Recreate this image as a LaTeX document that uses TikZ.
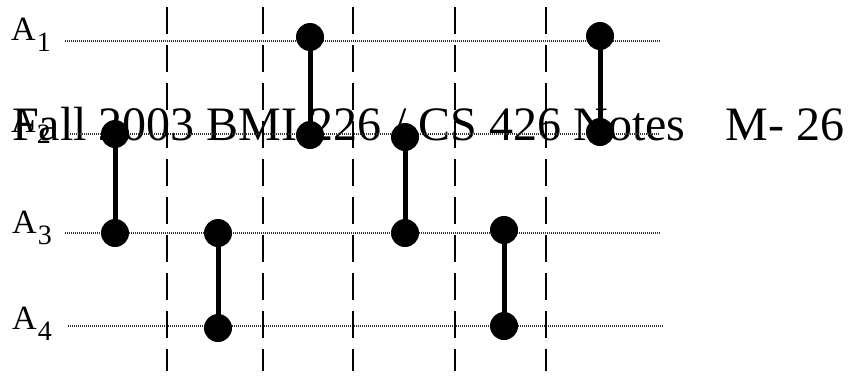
\documentclass[tikz,border=0pt]{standalone}
\usepackage{fontspec}
\setmainfont{Liberation Serif}
\begin{document}
\begin{tikzpicture}[x=1pt,y=-1pt,
  wire/.style={draw=black!80, line width=2.2pt, dash pattern=on 1pt off 1pt},
  slice/.style={draw=black, line width=2pt, dash pattern=on 27pt off 11pt},
  gate/.style={draw=black, line width=5pt},
  pin/.style={circle, fill=black, inner sep=0pt, minimum size=28pt},
  lab/.style={anchor=base west, inner sep=0pt},
  title/.style={anchor=base west, inner sep=0pt, font=\fontsize{48}{50}\selectfont}]
\useasboundingbox (0,0) rectangle (852,376);

% running header sits underneath the drawing
\node[title] (title) at (12,140) {Fall 2003 BMI 226 / CS 426 Notes\hspace{40pt}M- 26};

% wire labels
\newcommand\wirelabel[1]{{\fontsize{34}{34}\selectfont A}\kern1pt\raisebox{-11pt}{\fontsize{28}{28}\selectfont #1}}
\node[lab] (l1) at (11,40) {\wirelabel{1}};
\node[lab] (l2) at (11,132) {\wirelabel{2}};
\node[lab] (l3) at (12,233) {\wirelabel{3}};
\node[lab] (l4) at (12,329) {\wirelabel{4}};

% wire end points
\coordinate (w1s) at (65,41);  \coordinate (w1e) at (660,41);
\coordinate (w2s) at (70,134); \coordinate (w2e) at (660,134);
\coordinate (w3s) at (65,233); \coordinate (w3e) at (661,233);
\coordinate (w4s) at (68,326); \coordinate (w4e) at (663,326);
\draw[wire] (w1s) -- (w1e);
\draw[wire] (w2s) -- (w2e);
\draw[wire] (w3s) -- (w3e);
\draw[wire] (w4s) -- (w4e);

% time slice separators
\foreach \x [count=\i] in {167,263,353,455,546}{
  \coordinate (s\i t) at (\x,7);
  \coordinate (s\i b) at (\x,371);
  \draw[slice] (s\i t) -- (s\i b);
}

% comparator gates
\node[pin] (g1a) at (115,134) {};
\node[pin] (g1b) at (115,233) {};
\node[pin] (g2a) at (218,233) {};
\node[pin] (g2b) at (218,328) {};
\node[pin] (g3a) at (310,37) {};
\node[pin] (g3b) at (310,135) {};
\node[pin] (g4a) at (405,137) {};
\node[pin] (g4b) at (405,233) {};
\node[pin] (g5a) at (504,230) {};
\node[pin] (g5b) at (504,326) {};
\node[pin] (g6a) at (600,36) {};
\node[pin] (g6b) at (600,132) {};
\foreach \g in {g1,g2,g3,g4,g5,g6}
  \draw[gate] (\g a.center) -- (\g b.center);
\end{tikzpicture}
\end{document}
